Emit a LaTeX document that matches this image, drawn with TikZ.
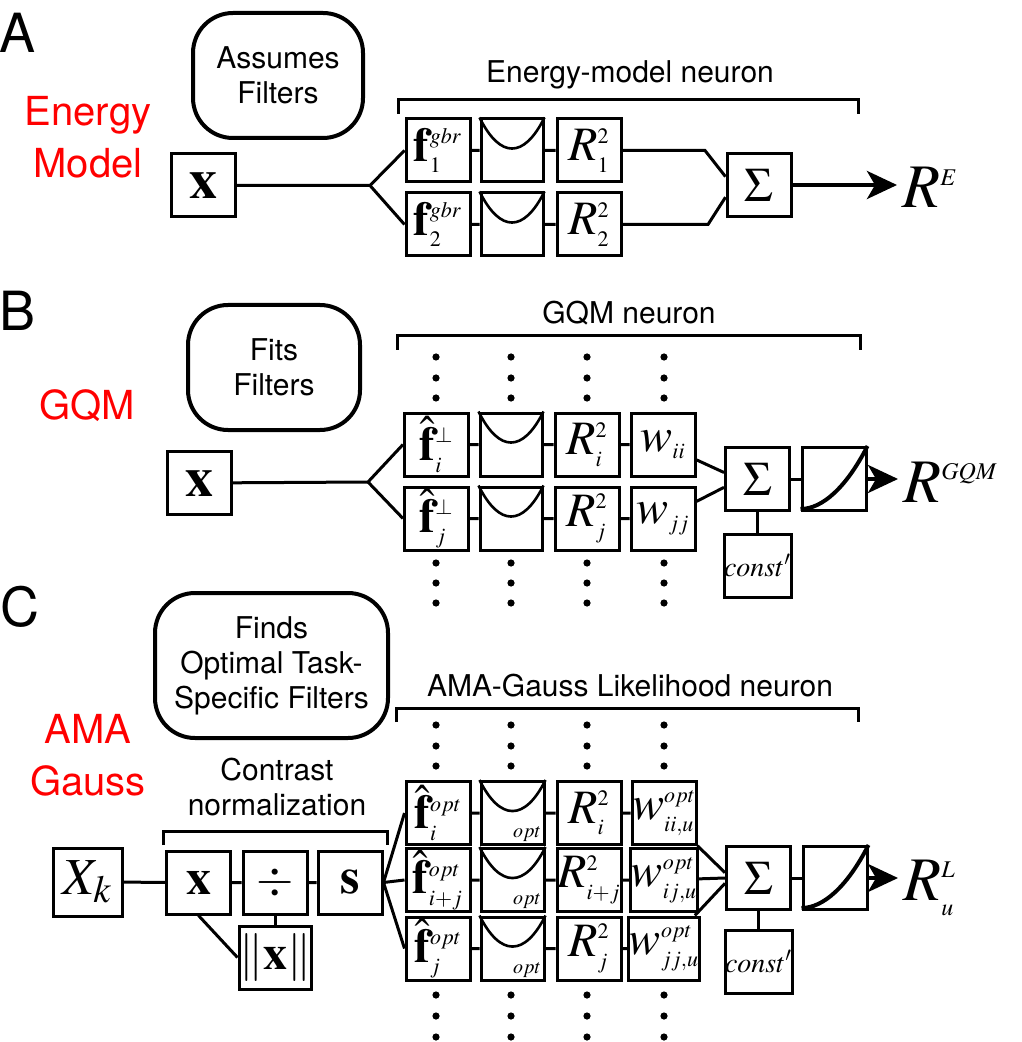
\documentclass[tikz,border=0pt]{standalone}
\usepackage[no-math]{fontspec}
\usepackage{mathptmx}
\setmainfont{TeX Gyre Heros}
\usetikzlibrary{arrows.meta}
\DeclareMathSizes{24}{24}{11}{8}
\DeclareMathSizes{31}{31}{12}{9}
\tikzset{
  blk/.style={draw, line width=1.5pt, minimum width=32pt, minimum height=31.5pt, inner sep=0pt, font=\fontsize{24}{26}\selectfont},
  bigx/.style={font=\fontsize{28}{30}\selectfont},
  sig/.style={font=\fontsize{24}{26}\selectfont},
  cst/.style={font=\fontsize{14}{16}\selectfont},
  note/.style={draw, line width=2pt, rounded corners=20pt, align=center, font=\fontsize{15}{17.5}\selectfont},
  model/.style={text=red, align=center, font=\fontsize{20}{26}\selectfont},
  panel/.style={font=\fontsize{27}{27}\selectfont},
  capt/.style={align=center, font=\fontsize{15}{17.5}\selectfont},
  outl/.style={anchor=base west, inner sep=2.5pt, font=\fontsize{31}{33}\selectfont},
  optl/.style={anchor=south east, inner sep=2pt, font=\fontsize{10}{10}\selectfont},
  con/.style={line width=1.5pt},
  brk/.style={line width=1.5pt},
  crv/.style={line width=1.3pt},
  nlc/.style={line width=2pt},
  outarr/.style={line width=2pt, -{Stealth[length=15pt, width=14pt, inset=4pt]}},
}
\begin{document}
\begin{tikzpicture}[x=0.5pt, y=-0.5pt]
\useasboundingbox (0,0) rectangle (1021,1042);

% panel A
\node[panel] (lA) at (18,33) {A};
\node[model] (mA) at (88,137) {Energy\\Model};
\node[note, minimum width=85pt, minimum height=62.5pt] (ntA) at (278,75.5) {Assumes\\Filters};
\node[capt] (tA) at (630,75) {Energy-model neuron};
\draw[brk] (398,114) |- (858,100) -- (858,114);
\node[blk, bigx] (xA) at (203.5,185.5) {$\mathbf{x}$};
\coordinate (kA) at (370,185.5);
\node[blk] (fA1) at (438,150.5) {$\mathbf{f}^{gbr}_{1}$};
\node[blk] (fA2) at (438,224.5) {$\mathbf{f}^{gbr}_{2}$};
\node[blk, minimum width=31pt] (pA1) at (512,150.5) {};
\node[blk, minimum width=31pt] (pA2) at (512,224.5) {};
\node[blk] (rA1) at (589,150.5) {$R^{2}_{1}$};
\node[blk] (rA2) at (589,224.5) {$R^{2}_{2}$};
\node[blk, sig] (sA) at (759,185) {$\Sigma$};
\node[outl] (oA) at (897,208) {$R^{E}$};
\coordinate (bA1) at (705,150.5);
\coordinate (bA2) at (708,224.5);
\draw[con] (xA) -- (kA) -- (fA1.west);
\draw[con] (kA) -- (fA2.west);
\draw[con] (fA1) -- (pA1) -- (rA1) -- (bA1) -- (sA.166);
\draw[con] (fA2) -- (pA2) -- (rA2) -- (bA2) -- (sA.200);
\draw[outarr] (sA) -- (sA -| oA.west);

% panel B
\node[panel] (lB) at (18,311) {B};
\node[model] (mB) at (87,406) {GQM};
\node[note, minimum width=86pt, minimum height=62.5pt] (ntB) at (274,367.5) {Fits\\Filters};
\node[capt] (tB) at (629,313) {GQM neuron};
\draw[brk] (397,350) |- (860,336) -- (860,350);
\node[blk, bigx] (xB) at (199.5,483) {$\mathbf{x}$};
\coordinate (kB) at (368,482);
\node[blk] (fB1) at (436.5,444.5) {$\hat{\mathbf{f}}^{\perp}_{i}$};
\node[blk] (fB2) at (436.5,518.5) {$\hat{\mathbf{f}}^{\perp}_{j}$};
\node[blk, minimum width=31pt] (pB1) at (511,444.5) {};
\node[blk, minimum width=31pt] (pB2) at (511,518.5) {};
\node[blk] (rB1) at (587,444.5) {$R^{2}_{i}$};
\node[blk] (rB2) at (587,518.5) {$R^{2}_{j}$};
\node[blk] (wB1) at (663,444.5) {$w_{ii}$};
\node[blk] (wB2) at (663,518.5) {$w_{jj}$};
\node[blk, sig] (sB) at (757.5,479) {$\Sigma$};
\node[blk] (nlB) at (834,479) {};
\node[blk, cst] (cB) at (757.5,565.5) {$const'$};
\node[outl] (oB) at (898,502) {$R^{GQM}$};
\draw[con] (xB) -- (kB) -- (fB1.west);
\draw[con] (kB) -- (fB2.west);
\draw[con] (fB1) -- (pB1) -- (rB1) -- (wB1) -- (sB.169);
\draw[con] (fB2) -- (pB2) -- (rB2) -- (wB2) -- (sB.194);
\draw[con] (sB) -- (nlB);
\draw[con] (sB) -- (cB);
\draw[outarr] (nlB) -- (nlB -| oB.west);

% panel C
\node[panel] (lC) at (20,607) {C};
\node[model] (mC) at (88,755) {AMA\\Gauss};
\node[note, minimum width=116.5pt, minimum height=72.5pt] (ntC) at (271.5,665.5) {Finds\\Optimal Task-\\Specific Filters};
\node[capt] (tC) at (630,686) {AMA-Gauss Likelihood neuron};
\draw[brk] (396,722) |- (858,708) -- (858,722);
\node[capt] (tN) at (277,787) {Contrast\\normalization};
\draw[brk] (163,845) |- (387,831) -- (387,845);
\node[blk, minimum width=34.5pt, minimum height=34pt, font=\fontsize{26}{28}\selectfont] (xkC) at (87.5,882) {$X_{k}$};
\node[blk, font=\fontsize{25}{27}\selectfont] (xC) at (198.5,882.5) {$\mathbf{x}$};
\node[blk] (dvC) at (275,882.5) {$\div$};
\node[blk, font=\fontsize{25}{27}\selectfont] (nsC) at (350,882.5) {$\mathbf{s}$};
\node[blk] (nrC) at (275,957.5) {$\|\mathbf{x}\|$};
\node[blk] (fC1) at (438,813) {$\hat{\mathbf{f}}^{opt}_{i}$};
\node[blk] (fC2) at (438,880) {$\hat{\mathbf{f}}^{opt}_{i+j}$};
\node[blk] (fC3) at (438,948.5) {$\hat{\mathbf{f}}^{opt}_{j}$};
\node[blk, minimum width=31.5pt] (pC1) at (512.5,813) {};
\node[blk, minimum width=31.5pt] (pC2) at (512.5,880) {};
\node[blk, minimum width=31.5pt] (pC3) at (512.5,948.5) {};
\node[optl] (qC1) at (pC1.south east) {$opt$};
\node[optl] (qC2) at (pC2.south east) {$opt$};
\node[optl] (qC3) at (pC3.south east) {$opt$};
\node[blk] (rC1) at (589,813) {$R^{2}_{i}$};
\node[blk] (rC2) at (589,880) {$R^{2}_{i+j}$};
\node[blk] (rC3) at (589,948.5) {$R^{2}_{j}$};
\node[blk] (wC1) at (664,813) {$w^{opt}_{ii,u}$};
\node[blk] (wC2) at (664,880) {$w^{opt}_{ij,u}$};
\node[blk] (wC3) at (664,948.5) {$w^{opt}_{jj,u}$};
\node[blk, sig] (sgC) at (758.5,878) {$\Sigma$};
\node[blk] (nlC) at (835,878) {};
\node[blk, cst] (ctC) at (758.5,961.5) {$const'$};
\node[outl] (oC) at (898,900) {$R^{L}_{u}$};
\draw[con] (xkC) -- (xC) -- (dvC) -- (nsC);
\draw[con] (dvC) -- (nrC);
\draw[con] (xC.south) -- (nrC.west);
\draw[con] (nsC.east) -- (fC1.west);
\draw[con] (nsC.east) -- (fC2.west);
\draw[con] (nsC.east) -- (fC3.west);
\draw[con] (fC1) -- (pC1) -- (rC1) -- (wC1) -- (sgC.171);
\draw[con] (fC2) -- (pC2) -- (rC2) -- (wC2) -- (sgC.west);
\draw[con] (fC3) -- (pC3) -- (rC3) -- (wC3) -- (sgC.189);
\draw[con] (sgC) -- (nlC);
\draw[con] (sgC) -- (ctC);
\draw[outarr] (nlC) -- (nlC -| oC.west);

% curves in boxes
\foreach \p in {pA1,pA2,pB1,pB2,pC1,pC2,pC3}
  \draw[crv] (\p.north west) .. controls +(10.3pt,-20.7pt) and +(-10.3pt,-20.7pt) .. (\p.north east);
\foreach \n in {nlB,nlC}
  \draw[nlc] ([yshift=1.5pt]\n.south west) .. controls +(10.7pt,0pt) and +(-10.7pt,-21pt) .. (\n.north east);

% dots
\foreach \cx in {436,511,587,664}
  \foreach \cy in {357,378,398,563,583,603,725,746,766,995,1016,1037}
    \fill (\cx,\cy) circle (1.8pt);
\end{tikzpicture}
\end{document}
